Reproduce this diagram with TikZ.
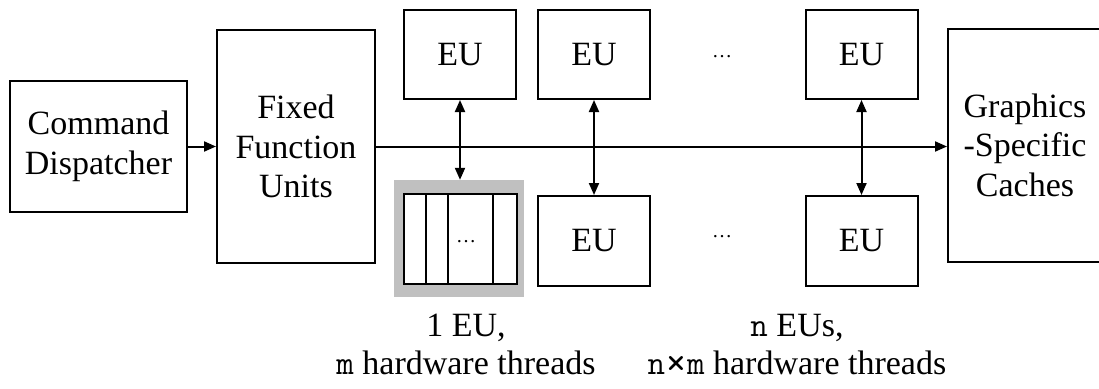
\documentclass[tikz,border=0pt]{standalone}
\usepackage{fontspec}
\usepackage{graphicx}
\setmainfont{Liberation Serif}
\usetikzlibrary{arrows.meta}
\definecolor{threadgray}{HTML}{C0C0C0}
\newcommand{\bigtimes}{\raisebox{-0.08em}{\scalebox{1.25}{×}}}
\begin{document}
\begin{tikzpicture}[x=1pt, y=-1pt,
  txt/.style={font=\fontsize{34}{39.5}\selectfont},
  box/.style={draw, line width=2pt, inner sep=0pt, align=center, txt},
  eu/.style={box, minimum width=112pt, minimum height=89pt},
  dots/.style={inner sep=0pt, font=\fontsize{20}{24}\selectfont},
  conn/.style={line width=2pt, -{Triangle[length=12pt, width=10pt]}},
  biconn/.style={line width=2pt, {Triangle[length=12pt, width=10pt]}-{Triangle[length=12pt, width=10pt]}},
  label/.style={align=center, anchor=base, font=\fontsize{34}{38}\selectfont}]
  \clip (0,0) rectangle (1099,388);

  % front end
  \node[box, minimum width=177pt, minimum height=131pt] (cmd) at (98.5,146.5) {Command\\Dispatcher};
  \node[box, minimum width=158pt, minimum height=233pt] (ffu) at (296,146.5) {Fixed\\Function\\Units};
  % caches (right border runs off the page)
  \node[box, minimum width=154pt, minimum height=233pt] (gsc) at (1025,145) {Graphics\\-Specific\\Caches};

  % execution units
  \node[eu] (eu1t) at (460,54.5) {EU};
  \node[eu] (eu2t) at (594,54.5) {EU};
  \node[eu] (eu3t) at (861.5,54.5) {EU};
  \node[eu, minimum height=90pt] (eu2b) at (594,241) {EU};
  \node[eu, minimum height=90pt] (eu3b) at (861.5,241) {EU};
  \node[dots] (dt) at (722,57) {…};
  \node[dots] (db) at (722,237) {…};

  % one EU with its hardware threads
  \node[fill=threadgray, minimum width=130pt, minimum height=117pt, inner sep=0pt] (tb) at (459,238.5) {};
  \node[draw, fill=white, line width=2pt, minimum width=113pt, minimum height=90pt, inner sep=0pt] (thr) at (460.5,239) {};
  \foreach \dx in {23,45,90}
    \draw[line width=2pt] ([xshift=\dx pt]thr.north west) -- ([xshift=\dx pt]thr.south west);
  \node[dots] (dth) at (466,242) {…};

  % connections
  \draw[conn] (cmd.east) -- (ffu.west);
  \draw[conn] (ffu.east) -- (ffu.east -| gsc.west);
  \draw[biconn] (eu1t.south) -- (eu1t.south |- tb.north);
  \draw[biconn] (eu2t.south) -- (eu2b.north);
  \draw[biconn] (eu3t.south) -- (eu3b.north);

  % captions
  \node[label] (cap1) at (466,374) {1 EU,\\\texttt{m} hardware threads};
  \node[label] (cap2) at (797,374) {\texttt{n} EUs,\\\texttt{n\bigtimes m} hardware threads};
\end{tikzpicture}
\end{document}
